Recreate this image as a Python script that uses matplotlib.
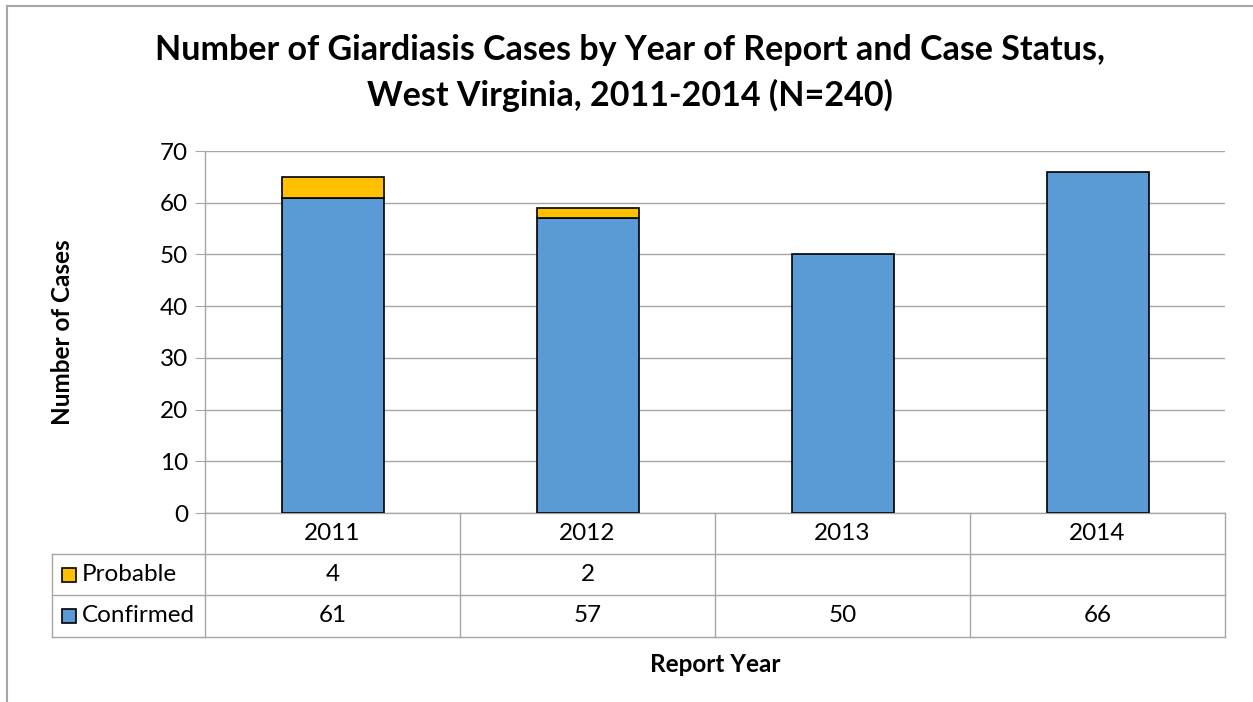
import numpy as np
import matplotlib
matplotlib.use("Agg")
import matplotlib.pyplot as plt
import matplotlib.transforms as mtransforms
from matplotlib.lines import Line2D

# data
years = ["2011", "2012", "2013", "2014"]
confirmed = [61, 57, 50, 66]
probable = [4, 2, 0, 0]
probable_text = ["4", "2", "", ""]
series_names = ["Probable", "Confirmed"]

blue = "#5B9BD5"
gold = "#FFC000"
gray = "#A6A6A6"

plt.rcParams['font.family'] = ['Lato', 'DejaVu Sans']

W, H = 1253, 702
fig = plt.figure(figsize=(W / 100, H / 100), dpi=100)
ax = fig.add_axes([205 / W, 1 - 513 / H, 1020 / W, 362 / H])

x = np.arange(len(years))
ax.bar(x, confirmed, width=0.4, color=blue, edgecolor="black", linewidth=1.2, zorder=3)
mask = np.array(probable) > 0
ax.bar(x[mask], np.array(probable)[mask], bottom=np.array(confirmed)[mask], width=0.4,
       color=gold, edgecolor="black", linewidth=1.2, zorder=3)

ax.set_xlim(-0.5, len(years) - 0.5)
ax.set_ylim(0, 70)
ax.set_yticks(range(0, 71, 10))
ax.set_xticks([])
ax.tick_params(axis="y", labelsize=17.5, length=7, color=gray, pad=5)
ax.grid(axis="y", color=gray, linewidth=1)
ax.set_axisbelow(True)
for s in ["top", "right"]:
    ax.spines[s].set_visible(False)
for s in ["left", "bottom"]:
    ax.spines[s].set_color(gray)
    ax.spines[s].set_linewidth(1)

# data table under the axis
tr = mtransforms.blended_transform_factory(ax.transData, ax.transAxes)
r0, r1, r2, r3 = 0, -41 / 362, -82 / 362, -124 / 362
xl = -0.5 - 153 / 255
kw = dict(transform=tr, color=gray, linewidth=1, clip_on=False)
for b in np.arange(-0.5, len(years), 1.0):
    ax.plot([b, b], [r0, r3], **kw)
ax.plot([xl, xl], [r1, r3], **kw)
for r in [r1, r2, r3]:
    ax.plot([xl, len(years) - 0.5], [r, r], **kw)

fs = 17.5
for i in range(len(years)):
    ax.text(i, (r0 + r1) / 2, years[i], transform=tr, ha="center", va="center", fontsize=fs)
    ax.text(i, (r1 + r2) / 2, probable_text[i], transform=tr, ha="center", va="center", fontsize=fs)
    ax.text(i, (r2 + r3) / 2, str(confirmed[i]), transform=tr, ha="center", va="center", fontsize=fs)

mx = -0.5 - (205 - 68.5) / 255
tx = -0.5 - (205 - 82) / 255
for name, col, ry in zip(series_names, [gold, blue], [(r1 + r2) / 2, (r2 + r3) / 2]):
    ax.plot([mx], [ry], marker="s", markersize=10.5, markerfacecolor=col,
            markeredgecolor="black", markeredgewidth=1.2, transform=tr, clip_on=False)
    ax.text(tx, ry, name, transform=tr, ha="left", va="center", fontsize=fs)

# titles and labels
fig.text(630 / W, 1 - 50 / H, "Number of Giardiasis Cases by Year of Report and Case Status,",
         ha="center", va="center", fontsize=24.5, fontweight="bold")
fig.text(630 / W, 1 - 95 / H, "West Virginia, 2011-2014 (N=240)",
         ha="center", va="center", fontsize=24.5, fontweight="bold")
fig.text(62 / W, 1 - 332 / H, "Number of Cases", rotation=90, ha="center", va="center",
         fontsize=17.5, fontweight="bold")
fig.text(715 / W, 1 - 665 / H, "Report Year", ha="center", va="center",
         fontsize=17.5, fontweight="bold")

# chart frame
fig.add_artist(Line2D([7 / W, 7 / W], [0, 1 - 6 / H], transform=fig.transFigure, color=gray, linewidth=1.5))
fig.add_artist(Line2D([7 / W, 1], [1 - 6 / H, 1 - 6 / H], transform=fig.transFigure, color=gray, linewidth=1.5))

fig.savefig("out.png", dpi=100)
